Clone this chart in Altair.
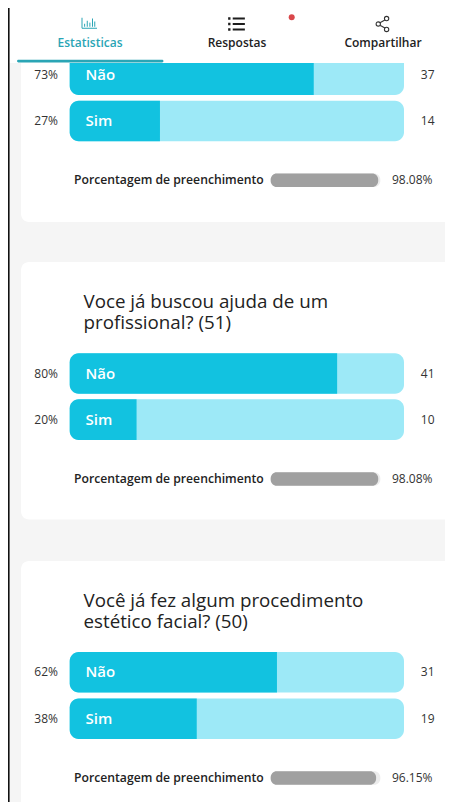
import altair as alt
import pandas as pd

# ---- values
options = ["Não", "Sim", "Não", "Sim", "Não", "Sim"]
percents = [73, 27, 80, 20, 62, 38]
counts = [37, 14, 41, 10, 31, 19]
fill_rates = [98.08, 98.08, 96.15]
questions = [
    ["Voce já buscou ajuda de um", "profissional? (51)"],
    ["Você já fez algum procedimento", "estético facial? (50)"],
]
tabs = ["Estatisticas", "Respostas", "Compartilhar"]
fill_label = "Porcentagem de preenchimento"

# ---- layout (page pixels)
W, H, M = 445, 802, 8
BAR_X0, BAR_X1 = 69.7, 404
G_X0, G_X1 = 270.7, 380.3
bar_tops = [54.5, 100.7, 353.2, 399.3, 652, 698.5]
BAR_H = 40.6
gauge_mid = [180.3, 479, 778]
cards = [(-40, 222), (262, 519.5), (561, 860)]
title_mid = [302, 601]
FONT = "Open Sans"
DARK = "#222222"

bars = pd.DataFrame({
    "opt": options, "pct": percents, "n": counts,
    "y0": bar_tops, "y1": [t + BAR_H for t in bar_tops],
})
bars["mid"] = (bars.y0 + bars.y1) / 2
bars["mid"] = bars["mid"].clip(lower=75)
bars["x0"] = BAR_X0
bars["x1"] = BAR_X1
bars["lx"] = 85.5
bars["px"] = 58
bars["nx"] = 434.5

gauges = pd.DataFrame({"rate": fill_rates, "mid": gauge_mid})
gauges["y0"] = gauges.mid - 6.7
gauges["y1"] = gauges.mid + 6.7
gauges["x0"] = G_X0
gauges["x1"] = G_X1
gauges["lx"] = 74
gauges["vx"] = 432.5
gauges["label"] = fill_label
gauges["txt"] = [f"{r:.2f}%" for r in fill_rates]

xs = alt.Scale(domain=[M, W], range=[0, W - M], nice=False, zero=False)
ys = alt.Scale(domain=[H, M], nice=False, zero=False)
X = lambda f: alt.X(f, type="quantitative", scale=xs, axis=None)
Y = lambda f: alt.Y(f, type="quantitative", scale=ys, axis=None)


def rect(df, x0, x1, y0, y1, **kw):
    return alt.Chart(df).mark_bar(**kw).encode(
        x=X(x0), x2=alt.X2(x1), y=Y(y0), y2=alt.Y2(y1))


def text(df, x, y, t, **kw):
    return alt.Chart(df).mark_text(font=FONT, baseline="middle", **kw).encode(
        x=X(x), y=Y(y), text=alt.Text(t))


bg = pd.DataFrame({"x0": [M], "x1": [W], "y0": [M], "y1": [H]})
card_df = pd.DataFrame({"x0": [21] * 3, "x1": [460] * 3,
                        "y0": [c[0] for c in cards], "y1": [c[1] for c in cards]})
header_df = pd.DataFrame({"x0": [M], "x1": [W], "y0": [M], "y1": [63]})
tab_line = pd.DataFrame({"x0": [17], "x1": [163.5], "y0": [59.7], "y1": [62.5]})
edge = pd.DataFrame({"x0": [M], "x1": [9.6], "y0": [M], "y1": [H]})

titles = pd.DataFrame({"t": questions, "x": [83.5, 83.5], "y": title_mid})
tab_df = pd.DataFrame({"t": tabs, "x": [90, 237, 383], "y": [43.3] * 3})


def icon(x, y, size, shape, **kw):
    d = pd.DataFrame({"x": [x], "y": [y]})
    return alt.Chart(d).mark_point(shape=shape, size=size, **kw).encode(x=X("x"), y=Y("y"))


LIST = ("M-1,-0.8H-0.72V-0.52H-1Z M-0.45,-0.78H1V-0.54H-0.45Z "
        "M-1,-0.14H-0.72V0.14H-1Z M-0.45,-0.12H1V0.12H-0.45Z "
        "M-1,0.52H-0.72V0.8H-1Z M-0.45,0.54H1V0.78H-0.45Z")
BARS = ("M-1,-0.7V0.7H1 M-0.65,0.5V0.1 M-0.3,0.5V-0.3 M0.05,0.5V-0.05 "
        "M0.4,0.5V-0.6 M0.7,0.5V-0.2")
SHARE = ("M-0.32,0A0.27,0.27 0 1 1 -0.86,0A0.27,0.27 0 1 1 -0.32,0Z "
         "M0.72,-0.68A0.27,0.27 0 1 1 0.18,-0.68A0.27,0.27 0 1 1 0.72,-0.68Z "
         "M0.72,0.68A0.27,0.27 0 1 1 0.18,0.68A0.27,0.27 0 1 1 0.72,0.68Z "
         "M-0.38,-0.17L0.24,-0.5 M-0.38,0.17L0.24,0.5")

track = "#9de9f7"
fill = "#12c2e0"
teal = "#2aa5b5"

layers = [
    rect(bg, "x0", "x1", "y0", "y1", color="#f5f5f5"),
    rect(card_df, "x0", "x1", "y0", "y1", color="#ffffff", cornerRadius=8, clip=True),
    rect(bars, "x0", "x1", "y0", "y1", color=track, cornerRadius=9, clip=True),
    alt.Chart(bars).transform_calculate(
        xf=f"{BAR_X0} + datum.pct / 100 * {BAR_X1 - BAR_X0}"
    ).mark_bar(color=fill, cornerRadiusTopLeft=9, cornerRadiusBottomLeft=9, clip=True).encode(
        x=X("x0"), x2=alt.X2("xf"), y=Y("y0"), y2=alt.Y2("y1")),
    text(bars, "lx", "mid", "opt", align="left", fontSize=15, fontWeight=600, color="#ffffff"),
    text(bars.assign(s=[f"{p}%" for p in percents]), "px", "mid", "s", align="right",
         fontSize=12, color="#333333"),
    text(bars, "nx", "mid", "n", align="right", fontSize=12, color="#333333"),
    text(titles, "x", "y", "t", align="left", fontSize=18.75, lineHeight=21, color=DARK),
    rect(gauges, "x0", "x1", "y0", "y1", color="#ececec", cornerRadius=6),
    alt.Chart(gauges).transform_calculate(
        xf=f"{G_X0} + datum.rate / 100 * {G_X1 - G_X0}"
    ).mark_bar(color="#a0a0a0", cornerRadius=6).encode(
        x=X("x0"), x2=alt.X2("xf"), y=Y("y0"), y2=alt.Y2("y1")),
    text(gauges, "lx", "mid", "label", align="left", fontSize=12.2, fontWeight=600, color=DARK),
    text(gauges, "vx", "mid", "txt", align="right", fontSize=12, color="#333333"),
    rect(header_df, "x0", "x1", "y0", "y1", color="#ffffff"),
    rect(tab_line, "x0", "x1", "y0", "y1", color=teal, cornerRadius=1.4),
    icon(89.5, 23, 225, BARS, color=teal, filled=False, strokeWidth=1, opacity=1),
    icon(236.5, 24, 280, LIST, color="#1d1d1d", filled=True, opacity=1, strokeWidth=0),
    icon(383, 24, 256, SHARE, color="#333333", filled=False, strokeWidth=1.1, opacity=1),
    icon(291.7, 17.3, 36, "circle", color="#d9474a", filled=True, opacity=1, strokeWidth=0),
    alt.Chart(tab_df.iloc[[0]]).mark_text(font=FONT, baseline="middle", align="center", fontSize=12,
                                          fontWeight=600, color=teal).encode(
        x=X("x"), y=Y("y"), text="t"),
    alt.Chart(tab_df.iloc[1:]).mark_text(font=FONT, baseline="middle", align="center", fontSize=12,
                                         fontWeight=600, color=DARK).encode(
        x=X("x"), y=Y("y"), text="t"),
    rect(edge, "x0", "x1", "y0", "y1", color="#111111"),
]

chart = alt.layer(*layers).properties(
    width=W - M, height=H - M, padding=0, background="#ffffff",
    autosize=alt.AutoSizeParams(type="none"),
).configure_view(stroke=None)

chart.save("out.html", embed_options={"renderer": "svg", "actions": False})
